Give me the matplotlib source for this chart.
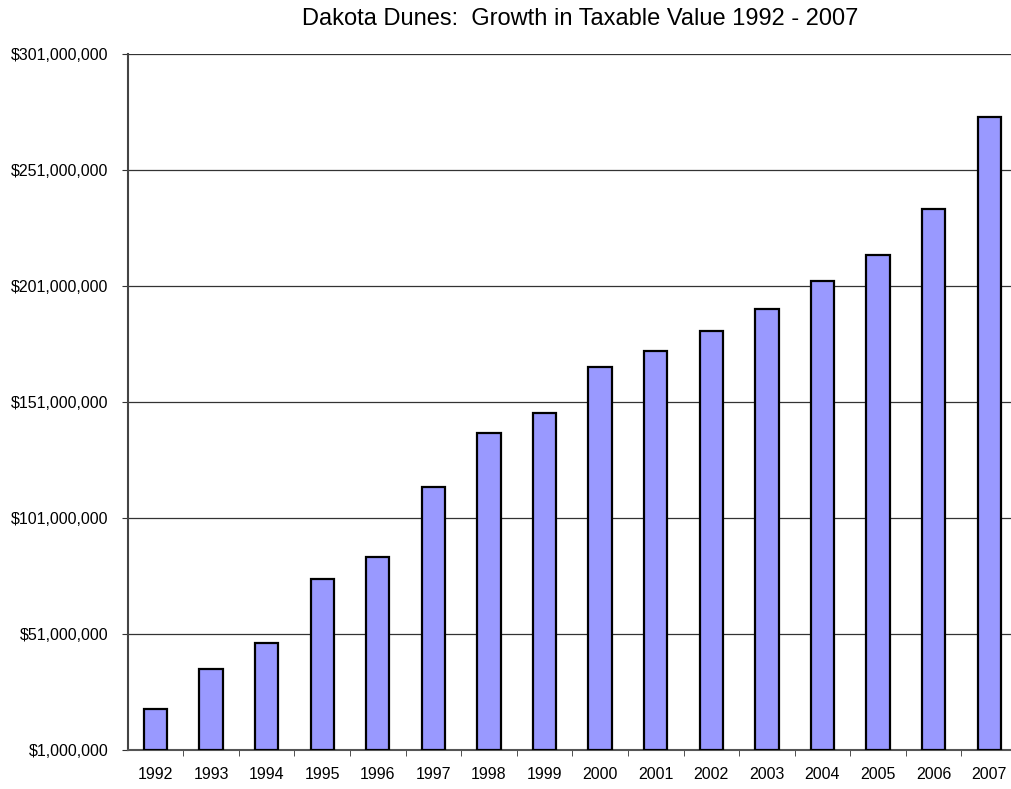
import matplotlib
matplotlib.use("Agg")
import matplotlib.pyplot as plt
from matplotlib.ticker import FuncFormatter

years = ["1992", "1993", "1994", "1995", "1996", "1997", "1998", "1999",
         "2000", "2001", "2002", "2003", "2004", "2005", "2006", "2007"]
values = [18.7e6, 35.9e6, 47.1e6, 74.7e6, 84.2e6, 114.4e6, 137.6e6, 146.3e6,
          166.1e6, 173.0e6, 181.6e6, 191.1e6, 203.2e6, 214.4e6, 234.2e6, 273.8e6]
yticks = [1e6, 51e6, 101e6, 151e6, 201e6, 251e6, 301e6]

plt.rcParams['font.family'] = ['Liberation Sans', 'DejaVu Sans']

W, H = 1012, 789
fig = plt.figure(figsize=(W / 100, H / 100), dpi=100)
ax = fig.add_axes([127.7 / W, 39 / H, (1017 - 127.7) / W, (750 - 54) / H])

x = list(range(len(years)))
ax.bar(x, [v - 1e6 for v in values], bottom=1e6, width=0.42, color="#9999FF",
       edgecolor="black", linewidth=1.6, zorder=3)

ax.set_xlim(-0.5, len(years) - 0.5)
ax.set_ylim(1e6, 301e6)
ax.set_yticks(yticks)
ax.yaxis.set_major_formatter(FuncFormatter(lambda v, p: "${:,.0f}".format(v)))
ax.set_xticks(x)
ax.set_xticklabels(years)
ax.set_xticks([i + 0.5 for i in x[:-1]], minor=True)
ax.tick_params(axis="x", which="major", length=0, pad=12, labelsize=11.5)
ax.tick_params(axis="x", which="minor", length=4, color="#333333")
ax.tick_params(axis="y", length=4, pad=10, labelsize=11.5, color="#333333")
ax.grid(axis="y", color="#333333", linewidth=0.9, zorder=0)
for s in ["top", "right"]:
    ax.spines[s].set_visible(False)
ax.spines["left"].set_color("#444444")
ax.spines["left"].set_linewidth(1.5)
ax.spines["bottom"].set_color("#555555")
ax.spines["bottom"].set_linewidth(1.5)

fig.text(580 / W, 1 - 19 / H, "Dakota Dunes:  Growth in Taxable Value 1992 - 2007",
         ha="center", va="center", fontsize=17)

fig.savefig("out.png", dpi=100, facecolor="white")
